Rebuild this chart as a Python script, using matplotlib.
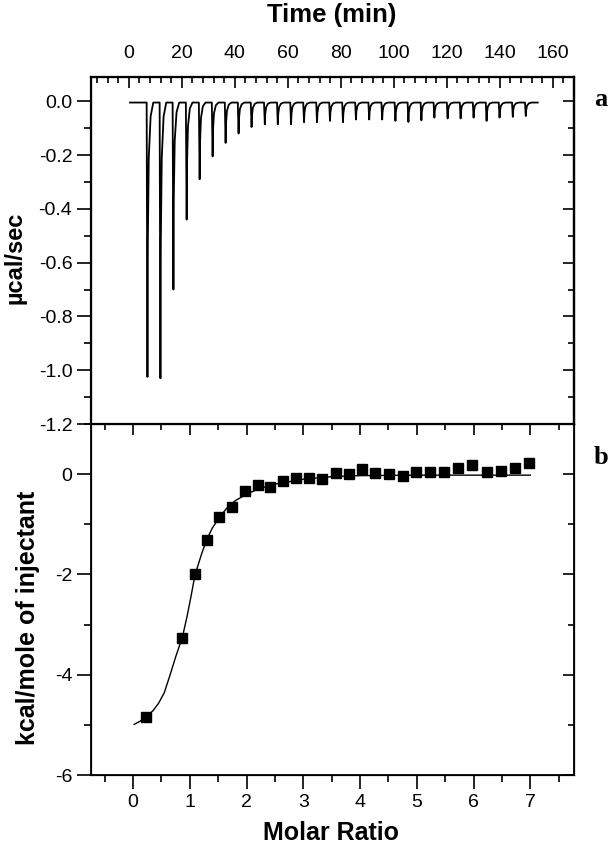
import matplotlib
matplotlib.use('Agg')
import matplotlib.pyplot as plt
from matplotlib.ticker import MultipleLocator

plt.rcParams['font.family'] = ['Liberation Sans', 'DejaVu Sans']
plt.rcParams['axes.unicode_minus'] = False

# Raw ITC trace: injection times (min) and peak minima (ucal/sec)
inj_time = [6.7, 11.6, 16.5, 21.5, 26.4, 31.3, 36.2, 41.1, 46.0, 51.0,
            55.9, 60.9, 65.8, 70.7, 75.6, 80.5, 85.4, 90.4, 95.3, 100.3,
            105.2, 110.1, 115.0, 120.0, 124.9, 129.8, 134.7, 139.6, 144.6, 149.5]
peak_min = [-1.025, -1.03, -0.70, -0.44, -0.29, -0.205, -0.155, -0.12, -0.096, -0.086,
            -0.086, -0.086, -0.078, -0.078, -0.073, -0.078, -0.068, -0.068, -0.068, -0.073,
            -0.077, -0.071, -0.061, -0.064, -0.064, -0.061, -0.073, -0.061, -0.058, -0.055]
trace_start, trace_end, baseline = 0.4, 154.3, -0.005

# Integrated heats (panel b)
molar_ratio = [0.23, 0.87, 1.09, 1.30, 1.52, 1.74, 1.97, 2.20, 2.42, 2.65,
               2.88, 3.10, 3.33, 3.57, 3.80, 4.04, 4.27, 4.51, 4.76, 4.99,
               5.23, 5.48, 5.73, 5.97, 6.23, 6.48, 6.73, 6.98]
heat = [-4.85, -3.27, -1.99, -1.31, -0.86, -0.66, -0.34, -0.22, -0.25, -0.14,
        -0.07, -0.08, -0.09, 0.03, 0.00, 0.10, 0.02, 0.00, -0.03, 0.05,
        0.05, 0.05, 0.13, 0.19, 0.05, 0.07, 0.13, 0.22]

# Fitted curve
fit_x = [0.02, 0.12, 0.23, 0.35, 0.45, 0.55, 0.64, 0.75, 0.87, 0.95, 1.02, 1.09,
         1.20, 1.30, 1.40, 1.52, 1.65, 1.80, 2.00, 2.20, 2.50, 3.00, 3.50, 4.00,
         5.00, 6.00, 7.00]
fit_y = [-4.99, -4.93, -4.84, -4.72, -4.57, -4.36, -4.05, -3.65, -3.25, -2.85, -2.45, -2.02,
         -1.62, -1.30, -1.07, -0.87, -0.68, -0.53, -0.40, -0.30, -0.20, -0.10, -0.05, -0.03,
         -0.02, -0.02, -0.02]

# build the trace: sharp drop to each peak minimum, quick return to baseline
tx, ty = [trace_start], [baseline]
for t, d in zip(inj_time, peak_min):
    tx += [t, t + 0.3, t + 0.45, t + 0.8, t + 1.5, t + 2.5]
    ty += [baseline, d, baseline + 0.5 * d, baseline + 0.2 * d, baseline + 0.05 * d, baseline]
tx.append(trace_end)
ty.append(baseline)

fig = plt.figure(figsize=(6.1, 8.47), dpi=100)
ax1 = fig.add_axes([0.1492, 0.4994, 0.7918, 0.4097])
ax2 = fig.add_axes([0.1492, 0.085, 0.7918, 0.4144])

# panel a
ax1.plot(tx, ty, color='black', lw=1.3)
ax1.set_xlim(-14.3, 168)
ax1.set_ylim(-1.2, 0.09)
ax1.xaxis.set_major_locator(MultipleLocator(20))
ax1.xaxis.set_minor_locator(MultipleLocator(4))
ax1.yaxis.set_major_locator(MultipleLocator(0.2))
ax1.yaxis.set_minor_locator(MultipleLocator(0.1))
ax1.xaxis.tick_top()
ax1.tick_params(axis='x', which='both', direction='in', top=True, bottom=False,
                labelsize=14, pad=11)
ax1.tick_params(axis='x', which='major', length=8, width=1.2)
ax1.tick_params(axis='x', which='minor', length=4, width=1.2)
ax1.tick_params(axis='y', which='major', direction='out', length=10, width=1.2, labelsize=14)
ax1.tick_params(axis='y', which='minor', direction='out', length=5, width=1.2)
ax1.set_yticklabels([f'{v:.1f}' for v in ax1.get_yticks()])
for s in ax1.spines.values():
    s.set_linewidth(1.6)

# right-side inward ticks for panel a
ax1r = ax1.twinx()
ax1r.set_ylim(ax1.get_ylim())
ax1r.yaxis.set_major_locator(MultipleLocator(0.2))
ax1r.yaxis.set_minor_locator(MultipleLocator(0.1))
ax1r.tick_params(axis='y', which='major', direction='in', length=8, width=1.2, labelright=False)
ax1r.tick_params(axis='y', which='minor', direction='in', length=4, width=1.2)
ax1r.spines['right'].set_linewidth(1.6)

fig.text(332 / 610, 1 - 15 / 847, 'Time (min)', fontsize=18.5, fontweight='bold',
         ha='center', va='center')
fig.text(0.025, 1 - 258 / 847, 'µcal/sec', rotation=90, fontsize=17,
         fontweight='bold', ha='center', va='center')

# panel b
ax2.plot(fit_x, fit_y, color='black', lw=1.0)
ax2.plot(molar_ratio, heat, 's', color='black', ms=7.5)
ax2.set_xlim(-0.74, 7.77)
ax2.set_ylim(-6, 1)
ax2.xaxis.set_major_locator(MultipleLocator(1))
ax2.xaxis.set_minor_locator(MultipleLocator(0.5))
ax2.yaxis.set_major_locator(MultipleLocator(2))
ax2.yaxis.set_minor_locator(MultipleLocator(1))
ax2.tick_params(axis='both', which='major', direction='out', length=10, width=1.2, labelsize=14)
ax2.tick_params(axis='both', which='minor', direction='out', length=5, width=1.2)
for s in ax2.spines.values():
    s.set_linewidth(1.3)

ax2t = ax2.twiny()
ax2t.set_xlim(ax2.get_xlim())
ax2t.xaxis.set_major_locator(MultipleLocator(1))
ax2t.xaxis.set_minor_locator(MultipleLocator(0.5))
ax2t.tick_params(axis='x', which='major', direction='in', length=8, width=1.2, labeltop=False)
ax2t.tick_params(axis='x', which='minor', direction='in', length=4, width=1.2)

ax2r = ax2.twinx()
ax2r.set_ylim(ax2.get_ylim())
ax2r.yaxis.set_major_locator(MultipleLocator(2))
ax2r.yaxis.set_minor_locator(MultipleLocator(1))
ax2r.tick_params(axis='y', which='major', direction='in', length=8, width=1.2, labelright=False)
ax2r.tick_params(axis='y', which='minor', direction='in', length=4, width=1.2)

fig.text(331 / 610, 1 - 845 / 847, 'Molar Ratio', fontsize=18, fontweight='bold',
         ha='center', va='bottom')
fig.text(0.046, 1 - 618 / 847, 'kcal/mole of injectant', rotation=90, fontsize=18,
         fontweight='bold', ha='center', va='center')

# panel letters
fig.text(0.985, 1 - 99 / 847, 'a', fontsize=19, fontweight='bold', family='Liberation Serif',
         ha='center', va='center')
fig.text(0.985, 1 - 457 / 847, 'b', fontsize=19, fontweight='bold', family='Liberation Serif',
         ha='center', va='center')

fig.savefig('out.png', dpi=100)
